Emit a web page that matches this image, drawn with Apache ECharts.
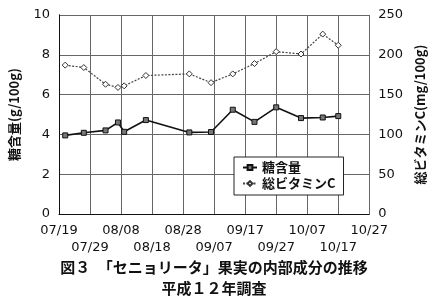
<!DOCTYPE html>
<html><head><meta charset="utf-8">
<script src="https://cdn.jsdelivr.net/npm/echarts@6/dist/echarts.min.js"></script>
<style>html,body{margin:0;padding:0;background:#fff}#c{width:435px;height:301px}</style>
</head><body><div id="c"></div>
<script>
var tickLabels = ['07/19','07/29','08/08','08/18','08/28','09/07','09/17','09/27','10/07','10/17','10/27'];
var sampleDates = ['07/21','07/27','08/03','08/07','08/09','08/16','08/30','09/06','09/13','09/20','09/27','10/05','10/12','10/17'];
var sugar = [3.95,4.08,4.2,4.6,4.13,4.72,4.1,4.12,5.24,4.63,5.36,4.82,4.85,4.92];
var vitC = [187,184,163,159,161,174,176,165,176,189,204,201,226,212];
var seriesNames = ['糖含量','総ビタミンC'];
var leftName = '糖含量(g/100g)';
var rightName = '総ビタミンC(mg/100g)';
var titleLines = ['図３　「セニョリータ」果実の内部成分の推移','平成１２年調査'];

function dayOf(s){var p=s.split('/');return Math.round((Date.UTC(2000,+p[0]-1,+p[1])-Date.UTC(2000,6,19))/86400000);}
function pairs(vals){return sampleDates.map(function(d,i){return [dayOf(d),vals[i]];});}

var jp = '"Noto Sans CJK JP", sans-serif';
var num = '"DejaVu Sans", sans-serif';
function xAx(odd){
  return {type:'value', min:0, max:100, interval:10, position:'bottom',
    axisLine:{show:!odd, lineStyle:{color:'#111', width:1}}, axisTick:{show:false},
    splitLine:{show:!odd, lineStyle:{color:'#666', width:1}},
    axisLabel:{fontFamily:num, fontSize:13, color:'#111', margin: odd?27:10, showMinLabel:true, showMaxLabel:true, hideOverlap:false,
      formatter:function(v){var i=Math.round(v/10);return (i%2===1)===odd ? tickLabels[i] : '';}}};
}
var chart = echarts.init(document.getElementById('c'), null, {renderer:'canvas'});
chart.setOption({
  animation:false,
  backgroundColor:'#fff',
  title:{text:titleLines.join('\n'), left:209, textAlign:'center', top:252, textStyle:{fontFamily:jp, fontSize:15, fontWeight:'bold', color:'#111', lineHeight:21}},
  grid:{left:59, right:65, top:15, bottom:87},
  legend:{orient:'vertical', left:234, top:157, width:107, padding:[4,8,5,8], itemGap:3, itemWidth:14, itemHeight:6,
    backgroundColor:'#fff', borderColor:'#222', borderWidth:1,
    textStyle:{fontFamily:jp, fontSize:13, color:'#111', fontWeight:'bold'}, data:seriesNames},
  xAxis:[xAx(false), xAx(true)],
  yAxis:[
    {type:'value', min:0, max:10, interval:2, position:'left',
     name:leftName, nameLocation:'middle', nameRotate:90, nameGap:38,
     nameTextStyle:{fontFamily:jp, fontSize:13, color:'#111', fontWeight:'bold'},
     axisLine:{show:true, lineStyle:{color:'#111'}}, axisTick:{show:false},
     splitLine:{show:true, lineStyle:{color:'#666', width:1}},
     axisLabel:{fontFamily:num, fontSize:13, color:'#111', margin:9}},
    {type:'value', min:0, max:250, interval:50, position:'right',
     name:rightName, nameLocation:'middle', nameRotate:90, nameGap:40,
     nameTextStyle:{fontFamily:jp, fontSize:13, color:'#111', fontWeight:'bold'},
     axisLine:{show:true, lineStyle:{color:'#111'}}, axisTick:{show:false},
     splitLine:{show:false},
     axisLabel:{fontFamily:num, fontSize:13, color:'#111', margin:9}}
  ],
  series:[
    {name:seriesNames[0], type:'line', xAxisIndex:0, yAxisIndex:0, data:pairs(sugar),
     symbol:'rect', symbolSize:5, showAllSymbol:true,
     lineStyle:{color:'#111', width:1.6}, itemStyle:{color:'#777', borderColor:'#111', borderWidth:1}},
    {name:seriesNames[1], type:'line', xAxisIndex:0, yAxisIndex:1, data:pairs(vitC),
     symbol:'diamond', symbolSize:6, showAllSymbol:true,
     lineStyle:{color:'#444', width:1.2, type:[2,1.5]}, itemStyle:{color:'#fff', borderColor:'#333', borderWidth:1}}
  ]
});
</script></body></html>
